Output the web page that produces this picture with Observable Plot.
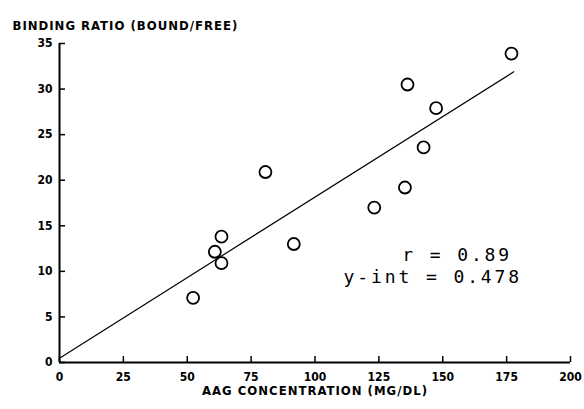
<!DOCTYPE html>
<html>
<head>
<meta charset="utf-8">
<script src="https://cdn.jsdelivr.net/npm/d3@7"></script>
<script src="https://cdn.jsdelivr.net/npm/@observablehq/plot@0.6"></script>
<style>
  html, body { margin: 0; padding: 0; background: white; }
</style>
</head>
<body>
<div id="chart"></div>
<script>
// AAG concentration (mg/dL)
const aag = [176.9, 136.2, 147.4, 142.5, 135.2, 123.2, 80.6, 91.7, 63.4, 60.8, 63.4, 52.3];
// Binding ratio (bound/free)
const ratio = [33.9, 30.5, 27.9, 23.6, 19.2, 17.0, 20.9, 13.0, 13.8, 12.15, 10.9, 7.1];
// Regression fit
const fitIntercept = 0.478;
const fitSlope = 0.1767;
const statR = "r = 0.89";
const statInt = "y-int = 0.478";
const xTicks = [0, 25, 50, 75, 100, 125, 150, 175, 200];
const yTicks = [0, 5, 10, 15, 20, 25, 30, 35];
const yTitle = "BINDING RATIO (BOUND/FREE)";
const xTitle = "AAG CONCENTRATION (MG/DL)";

const points = aag.map((x, i) => ({x, y: ratio[i]}));
const xEnd = d3.max(aag) + 0.9;
const fit = [0, xEnd].map(x => ({x, y: fitIntercept + fitSlope * x}));

const bold = {fontFamily: "'DejaVu Sans Condensed', 'DejaVu Sans', sans-serif", fontWeight: "bold", fontSize: 12};
const titleFont = {...bold, fontSize: 13};
const mono = {fontFamily: "'DejaVu Sans Mono', monospace", fontWeight: "normal", fontSize: 18};

const chart = Plot.plot({
  width: 584,
  height: 409,
  marginLeft: 59,
  marginRight: 14,
  marginTop: 43,
  marginBottom: 47,
  style: {background: "white", color: "black", fontFamily: bold.fontFamily, fontSize: "12px", fontWeight: "bold"},
  x: {domain: [0, 200]},
  y: {domain: [0, 35]},
  marks: [
    Plot.axisX(xTicks, {tickSize: 0, tickPadding: 10, label: null, ...bold}),
    Plot.axisX(xTicks, {tickSize: 6, dy: -6, text: null, label: null, strokeWidth: 1.5}),
    Plot.axisY(yTicks, {tickSize: 0, tickPadding: 7, label: null, ...bold}),
    Plot.axisY(yTicks, {tickSize: 6, dx: 6, text: null, label: null, strokeWidth: 1.5}),
    Plot.ruleY([0], {strokeWidth: 2}),
    Plot.ruleX([0], {strokeWidth: 2}),
    Plot.line(fit, {x: "x", y: "y", strokeWidth: 1.2, stroke: "black"}),
    Plot.dot(points, {x: "x", y: "y", r: 6, stroke: "black", strokeWidth: 1.8}),
    Plot.text([yTitle], {frameAnchor: "top-left", textAnchor: "start", dx: -47, dy: -22.5, ...titleFont}),
    Plot.text([xTitle], {frameAnchor: "bottom", dy: 32, ...titleFont}),
    Plot.text([statR], {frameAnchor: "top-left", textAnchor: "start", dx: 342.7, dy: 205, ...mono}),
    Plot.text([statInt], {frameAnchor: "top-left", textAnchor: "start", dx: 284, dy: 227, ...mono})
  ]
});

d3.select(chart).selectAll("text")
  .filter(function() { return this.textContent.includes("="); })
  .style("letter-spacing", "2.9px");
d3.select(chart).selectAll("text")
  .filter(function() { return this.textContent === yTitle || this.textContent === xTitle; })
  .style("letter-spacing", "1px");

document.getElementById("chart").appendChild(chart);
</script>
</body>
</html>
